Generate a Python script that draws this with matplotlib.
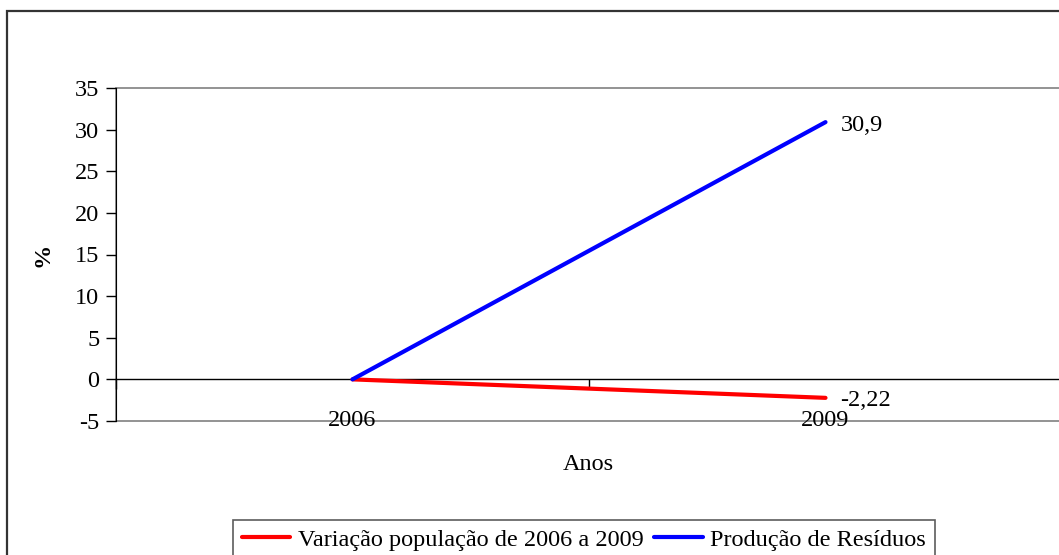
import matplotlib
matplotlib.use("Agg")
import matplotlib.pyplot as plt
from matplotlib.patches import Rectangle
import numpy as np

# data
anos = ["2006", "2009"]
variacao_pop = [0, -2.22]
producao_residuos = [0, 30.9]
yticks = [-5, 0, 5, 10, 15, 20, 25, 30, 35]

plt.rcParams['font.family'] = ['Liberation Serif', 'DejaVu Serif']
FS = 17.5

W, H = 1059, 555
fig = plt.figure(figsize=(W / 100, H / 100), dpi=100)

# outer chart border (cut off at right / bottom like the original)
fig.patches.append(Rectangle((7 / W, -0.2), 1.3, 1 - 11 / H + 0.2,
                             transform=fig.transFigure, fill=False,
                             edgecolor='#333333', lw=1.6))

ax = fig.add_axes([116 / W, 1 - 421 / H, 946 / W, 333 / H])
x = np.arange(len(anos))

l1, = ax.plot(x, variacao_pop, color='#ff0000', lw=3.0, solid_capstyle='round',
              label='Variação população de 2006 a 2009', zorder=3)
l2, = ax.plot(x, producao_residuos, color='#0000ff', lw=3.0, solid_capstyle='round',
              label='Produção de Resíduos', zorder=3)

# data labels on the last point
for serie, dy in [(producao_residuos, -3), (variacao_pop, -3)]:
    v = serie[-1]
    ax.annotate(str(v).replace('.', ','), (x[-1], v), xytext=(15, dy),
                textcoords='offset pixels', ha='left', va='center', fontsize=FS)

ax.set_xlim(-0.5, 1.5)
ax.set_ylim(-5, 35)

# plot area frame: grey, left spine black
ax.patch.set_edgecolor('#808080')
ax.patch.set_linewidth(1.2)
for s in ['top', 'right']:
    ax.spines[s].set_visible(False)
ax.spines['left'].set_color('black')
ax.spines['bottom'].set_position(('data', 0))
ax.spines['bottom'].set_color('black')
ax.spines['bottom'].set_linewidth(1.0)

ax.set_yticks(yticks)
ax.set_yticklabels([str(t) for t in yticks])
ax.tick_params(axis='y', direction='out', length=7, width=1, labelsize=FS, pad=5)

ax.set_xticks(x)
ax.set_xticklabels(anos)
ax.set_xticks([-0.5, 0.5, 1.5], minor=True)
ax.tick_params(axis='x', which='major', length=0, labelsize=FS, pad=22)
ax.tick_params(axis='x', which='minor', direction='out', length=7, width=1)

ax.set_ylabel('%', fontsize=FS, fontweight='bold')
ax.yaxis.set_label_coords((54 - 116) / 946, 0.5)

fig.text(588 / W, 1 - 465 / H, 'Anos', ha='center', va='center', fontsize=FS)

leg = ax.legend(handles=[l1, l2], loc='upper center', ncol=2,
                bbox_to_anchor=(584 / W, 1 - 520 / H), bbox_transform=fig.transFigure,
                fontsize=FS, frameon=True, fancybox=False, handlelength=2.0,
                handletextpad=0.3, columnspacing=0.45, borderpad=0.35,
                borderaxespad=0)
leg.get_frame().set_edgecolor('#333333')
leg.get_frame().set_linewidth(1.2)

fig.savefig('out.png', dpi=100)
